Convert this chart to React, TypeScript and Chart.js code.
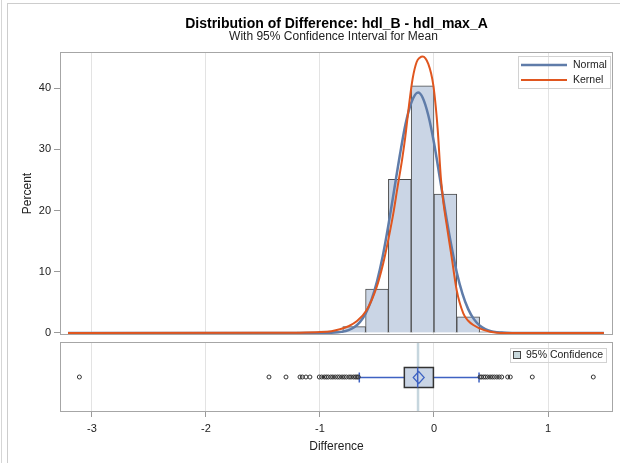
import React, { useEffect, useRef } from 'react';
import { Chart, registerables } from 'chart.js';

Chart.register(...registerables);

const FONT = '"Liberation Sans", Arial, Helvetica, sans-serif';

const TITLE = 'Distribution of Difference: hdl_B - hdl_max_A';
const SUBTITLE = 'With 95% Confidence Interval for Mean';
const X_TITLE = 'Difference';
const Y_TITLE = 'Percent';
const LEGEND_NORMAL = 'Normal';
const LEGEND_KERNEL = 'Kernel';
const LEGEND_CI = '95% Confidence';

const X_TICKS = [-3, -2, -1, 0, 1];
const Y_TICKS = [0, 10, 20, 30, 40];
const X_MIN = -3.28;
const X_MAX = 1.57;
const Y_MIN = -0.33;
const Y_MAX = 45.93;

// Histogram (bin midpoints, percent)
const binMidpoints = [-1.1, -0.9, -0.7, -0.5, -0.3, -0.1, 0.1, 0.3, 0.5];
const binPercents = [0.15, 0.3, 1.03, 7.19, 25.1, 40.4, 22.7, 2.66, 0.2];

// Normal curve
const normalX = [-3.21, -1.2, -1.0, -0.9, -0.8, -0.75, -0.7, -0.65, -0.6, -0.55, -0.5, -0.45, -0.4, -0.35, -0.3, -0.25, -0.2, -0.14, -0.1, -0.05, 0, 0.05, 0.1, 0.15, 0.2, 0.25, 0.3, 0.35, 0.4, 0.45, 0.5, 0.55, 0.6, 0.7, 0.8, 1.49];
const normalY = [0, 0, 0.01, 0.04, 0.22, 0.47, 0.94, 1.78, 3.17, 5.32, 8.42, 12.5, 17.6, 23.3, 29.0, 34.1, 37.6, 39.3, 38.5, 35.6, 31.1, 25.5, 19.8, 14.5, 9.9, 6.4, 3.9, 2.26, 1.23, 0.62, 0.3, 0.14, 0.06, 0.01, 0, 0];

// Kernel density curve
const kernelX = [-3.21, -1.5, -1.2, -1.0, -0.9, -0.825, -0.75, -0.678, -0.59, -0.503, -0.445, -0.4, -0.357, -0.32, -0.28, -0.252, -0.22, -0.187, -0.152, -0.125, -0.099, -0.075, -0.05, -0.025, -0.006, 0.015, 0.032, 0.061, 0.085, 0.111, 0.155, 0.199, 0.257, 0.3, 0.345, 0.433, 0.55, 0.65, 1.0, 1.49];
const kernelY = [0, 0.02, 0.05, 0.15, 0.3, 0.6, 1.1, 1.9, 3.75, 7.5, 11.4, 15.3, 19.5, 23.8, 28.3, 32.0, 37.1, 41.6, 44.3, 45.0, 45.2, 44.9, 44.0, 42.4, 40.5, 37.1, 33.4, 25.2, 21.0, 17.7, 12.4, 7.0, 3.2, 2.0, 1.3, 0.5, 0.05, 0.01, 0, 0];

// Box plot statistics
const boxQ1 = -0.26;
const boxMedian = -0.143;
const boxQ3 = -0.005;
const boxMean = -0.134;
const whiskerLow = -0.655;
const whiskerHigh = 0.395;
const ciLow = -0.151;
const ciHigh = -0.129;
const outliers = [
  -3.11, -1.447, -1.298, -1.175, -1.155, -1.123, -1.088, -1.006,
  -0.985, -0.962, -0.944, -0.927, -0.905, -0.887, -0.866, -0.846, -0.828, -0.806, -0.787, -0.768, -0.745, -0.728, -0.707, -0.69, -0.676, -0.664,
  0.404, 0.418, 0.436, 0.452, 0.47, 0.492, 0.511, 0.53, 0.551, 0.572, 0.594,
  0.646, 0.669, 0.862, 1.397,
];

const BAR_FILL = '#cad5e5';
const BAR_EDGE = '#4a4a4a';
const NORMAL_COLOR = '#5f7ca9';
const KERNEL_COLOR = '#e0561f';
const BOX_BLUE = '#3e62c2';
const GRID = '#e3e3e3';
const FRAME = '#a6a6a6';
const TEXT = '#222';

const framePlugin = {
  id: 'panelFrame',
  afterDraw(chart: any) {
    const { ctx, chartArea: a } = chart;
    ctx.save();
    ctx.strokeStyle = FRAME;
    ctx.lineWidth = 1;
    ctx.strokeRect(Math.round(a.left) + 0.5, Math.round(a.top) + 0.5, Math.round(a.right - a.left) - 1, Math.round(a.bottom - a.top) - 1);
    ctx.restore();
  },
};

const titlePlugin = {
  id: 'titles',
  afterDraw(chart: any) {
    const { ctx, chartArea: a } = chart;
    const cx = (a.left + a.right) / 2;
    ctx.save();
    ctx.fillStyle = '#000';
    ctx.textAlign = 'center';
    ctx.textBaseline = 'alphabetic';
    ctx.font = `bold 14px ${FONT}`;
    ctx.fillText(TITLE, cx, 27.5);
    ctx.fillStyle = TEXT;
    ctx.font = `12px ${FONT}`;
    ctx.fillText(SUBTITLE, cx - 3, 40);
    ctx.restore();
  },
};

const mainLegendPlugin = {
  id: 'mainLegend',
  afterDraw(chart: any) {
    const { ctx, chartArea: a } = chart;
    const lx = Math.round(a.right) - 95;
    const ly = Math.round(a.top) + 4;
    ctx.save();
    ctx.strokeStyle = '#d2d2d2';
    ctx.lineWidth = 1;
    ctx.strokeRect(lx + 0.5, ly + 0.5, 92, 32);
    const rows = [
      { label: LEGEND_NORMAL, color: NORMAL_COLOR, width: 2.5 },
      { label: LEGEND_KERNEL, color: KERNEL_COLOR, width: 2 },
    ];
    ctx.font = `10.5px ${FONT}`;
    ctx.textBaseline = 'middle';
    ctx.textAlign = 'left';
    rows.forEach((r, i) => {
      const y = ly + 9 + i * 15;
      ctx.strokeStyle = r.color;
      ctx.lineWidth = r.width;
      ctx.beginPath();
      ctx.moveTo(lx + 3, y);
      ctx.lineTo(lx + 49, y);
      ctx.stroke();
      ctx.fillStyle = TEXT;
      ctx.fillText(r.label, lx + 55, y + 0.5);
    });
    ctx.restore();
  },
};

const boxPlugin = {
  id: 'boxPlot',
  beforeDatasetsDraw(chart: any) {
    const { ctx, chartArea: a, scales } = chart;
    const x = scales.x;
    const y = scales.y;
    const px = (v: number) => x.getPixelForValue(v);
    const cy = Math.round(y.getPixelForValue(0.5)) + 0.5;
    const half = 10;
    ctx.save();
    // confidence band for the mean
    ctx.fillStyle = '#c6d6de';
    ctx.fillRect(px(ciLow), a.top, px(ciHigh) - px(ciLow), a.bottom - a.top);
    // whiskers
    ctx.strokeStyle = BOX_BLUE;
    ctx.lineWidth = 1.5;
    const seg = (x1: number, y1: number, x2: number, y2: number) => {
      ctx.beginPath();
      ctx.moveTo(x1, y1);
      ctx.lineTo(x2, y2);
      ctx.stroke();
    };
    seg(px(whiskerLow), cy, px(boxQ1), cy);
    seg(px(boxQ3), cy, px(whiskerHigh), cy);
    seg(px(whiskerLow), cy - 5, px(whiskerLow), cy + 5);
    seg(px(whiskerHigh), cy - 5, px(whiskerHigh), cy + 5);
    // box
    ctx.fillStyle = BAR_FILL;
    ctx.fillRect(px(boxQ1), cy - half, px(boxQ3) - px(boxQ1), half * 2);
    ctx.strokeStyle = '#333';
    ctx.lineWidth = 1.5;
    ctx.strokeRect(px(boxQ1), cy - half, px(boxQ3) - px(boxQ1), half * 2);
    // median
    ctx.strokeStyle = BOX_BLUE;
    ctx.lineWidth = 1.5;
    seg(px(boxMedian), cy - half, px(boxMedian), cy + half);
    // mean diamond
    const mx = px(boxMean);
    ctx.lineWidth = 1.2;
    ctx.beginPath();
    ctx.moveTo(mx, cy - 6);
    ctx.lineTo(mx + 5.5, cy);
    ctx.lineTo(mx, cy + 6);
    ctx.lineTo(mx - 5.5, cy);
    ctx.closePath();
    ctx.stroke();
    ctx.restore();
  },
  afterDraw(chart: any) {
    const { ctx, chartArea: a } = chart;
    const lx = Math.round(a.right) - 103;
    const ly = Math.round(a.top) + 6;
    ctx.save();
    ctx.strokeStyle = '#d2d2d2';
    ctx.lineWidth = 1;
    ctx.strokeRect(lx + 0.5, ly + 0.5, 96, 14);
    ctx.fillStyle = '#c8d8dc';
    ctx.fillRect(lx + 3.5, ly + 3.5, 7, 7);
    ctx.strokeStyle = '#444';
    ctx.strokeRect(lx + 3.5, ly + 3.5, 7, 7);
    ctx.fillStyle = TEXT;
    ctx.font = `10.5px ${FONT}`;
    ctx.textBaseline = 'middle';
    ctx.textAlign = 'left';
    ctx.fillText(LEGEND_CI, lx + 16, ly + 7.5);
    ctx.restore();
  },
};

const setXTicks = (s: any) => {
  s.ticks = X_TICKS.map((v) => ({ value: v }));
};
const setYTicks = (s: any) => {
  s.ticks = Y_TICKS.map((v) => ({ value: v }));
};

export default function App() {
  const mainRef = useRef<HTMLCanvasElement>(null);
  const boxRef = useRef<HTMLCanvasElement>(null);

  useEffect(() => {
    const main = new Chart(mainRef.current as HTMLCanvasElement, {
      type: 'bar',
      data: {
        datasets: [
          {
            type: 'line',
            label: LEGEND_KERNEL,
            data: kernelX.map((x, i) => ({ x, y: kernelY[i] })),
            borderColor: KERNEL_COLOR,
            borderWidth: 2,
            pointRadius: 0,
            fill: false,
            cubicInterpolationMode: 'monotone',
            order: 1,
          } as any,
          {
            type: 'line',
            label: LEGEND_NORMAL,
            data: normalX.map((x, i) => ({ x, y: normalY[i] })),
            borderColor: NORMAL_COLOR,
            borderWidth: 2.5,
            pointRadius: 0,
            fill: false,
            cubicInterpolationMode: 'monotone',
            order: 2,
          } as any,
          {
            type: 'bar',
            label: 'Histogram',
            data: binMidpoints.map((x, i) => ({ x, y: binPercents[i] })),
            backgroundColor: BAR_FILL,
            borderColor: BAR_EDGE,
            borderWidth: 1,
            barPercentage: 1,
            categoryPercentage: 1,
            order: 3,
          } as any,
        ],
      },
      options: {
        animation: false,
        responsive: false,
        devicePixelRatio: 1,
        layout: { padding: { top: 52, right: 7, bottom: 0, left: 0 } },
        plugins: { legend: { display: false }, tooltip: { enabled: false }, title: { display: false } },
        scales: {
          x: {
            type: 'linear',
            min: X_MIN,
            max: X_MAX,
            offset: false,
            afterBuildTicks: setXTicks,
            afterFit: (s: any) => { s.height = 11; },
            ticks: { display: false },
            grid: { color: GRID, drawTicks: false, offset: false },
            border: { display: false },
          },
          y: {
            type: 'linear',
            min: Y_MIN,
            max: Y_MAX,
            afterBuildTicks: setYTicks,
            afterFit: (s: any) => { s.width = 60; },
            ticks: { font: { family: FONT, size: 11 }, color: TEXT, padding: 3 },
            grid: { drawOnChartArea: false, drawTicks: true, tickLength: 6, tickColor: '#9a9a9a' },
            border: { display: false },
            title: { display: true, text: Y_TITLE, font: { family: FONT, size: 12 }, color: TEXT, padding: { top: 20, bottom: 0 } },
          },
        },
      } as any,
      plugins: [framePlugin, titlePlugin, mainLegendPlugin],
    });

    const box = new Chart(boxRef.current as HTMLCanvasElement, {
      type: 'scatter',
      data: {
        datasets: [
          {
            label: 'Outliers',
            data: outliers.map((x) => ({ x, y: 0.5 })),
            pointRadius: 2,
            pointBorderWidth: 1,
            pointBorderColor: '#333',
            pointBackgroundColor: 'rgba(255,255,255,0)',
            showLine: false,
          } as any,
        ],
      },
      options: {
        animation: false,
        responsive: false,
        devicePixelRatio: 1,
        layout: { padding: { top: 6, right: 7, bottom: 0, left: 0 } },
        plugins: { legend: { display: false }, tooltip: { enabled: false } },
        scales: {
          x: {
            type: 'linear',
            min: X_MIN,
            max: X_MAX,
            afterBuildTicks: setXTicks,
            afterFit: (s: any) => { s.height = 51; },
            ticks: { font: { family: FONT, size: 11 }, color: TEXT, padding: 5 },
            grid: { color: GRID, drawTicks: true, tickLength: 5, tickColor: '#9a9a9a' },
            border: { display: false },
            title: { display: true, text: X_TITLE, font: { family: FONT, size: 12 }, color: TEXT, padding: { top: 0, bottom: 9 } },
          },
          y: {
            type: 'linear',
            min: 0,
            max: 1,
            afterFit: (s: any) => { s.width = 60; },
            ticks: { display: false },
            grid: { display: false },
            border: { display: false },
          },
        },
      } as any,
      plugins: [boxPlugin, framePlugin],
    });

    return () => {
      main.destroy();
      box.destroy();
    };
  }, []);

  return (
    <div style={{ position: 'absolute', left: 0, top: 0, width: 620, height: 463, background: '#fff', overflow: 'hidden' }}>
      <div style={{ position: 'absolute', left: 1, top: 0, width: 1, height: 463, background: '#d6d6d6' }} />
      <div style={{ position: 'absolute', left: 7, top: 3, width: 613, height: 460, borderLeft: '1px solid #cdcdcd', borderTop: '1px solid #cdcdcd', boxSizing: 'border-box' }} />
      <canvas ref={mainRef} width={620} height={346} style={{ position: 'absolute', left: 0, top: 0, width: 620, height: 346 }} />
      <canvas ref={boxRef} width={620} height={127} style={{ position: 'absolute', left: 0, top: 336, width: 620, height: 127 }} />
    </div>
  );
}
